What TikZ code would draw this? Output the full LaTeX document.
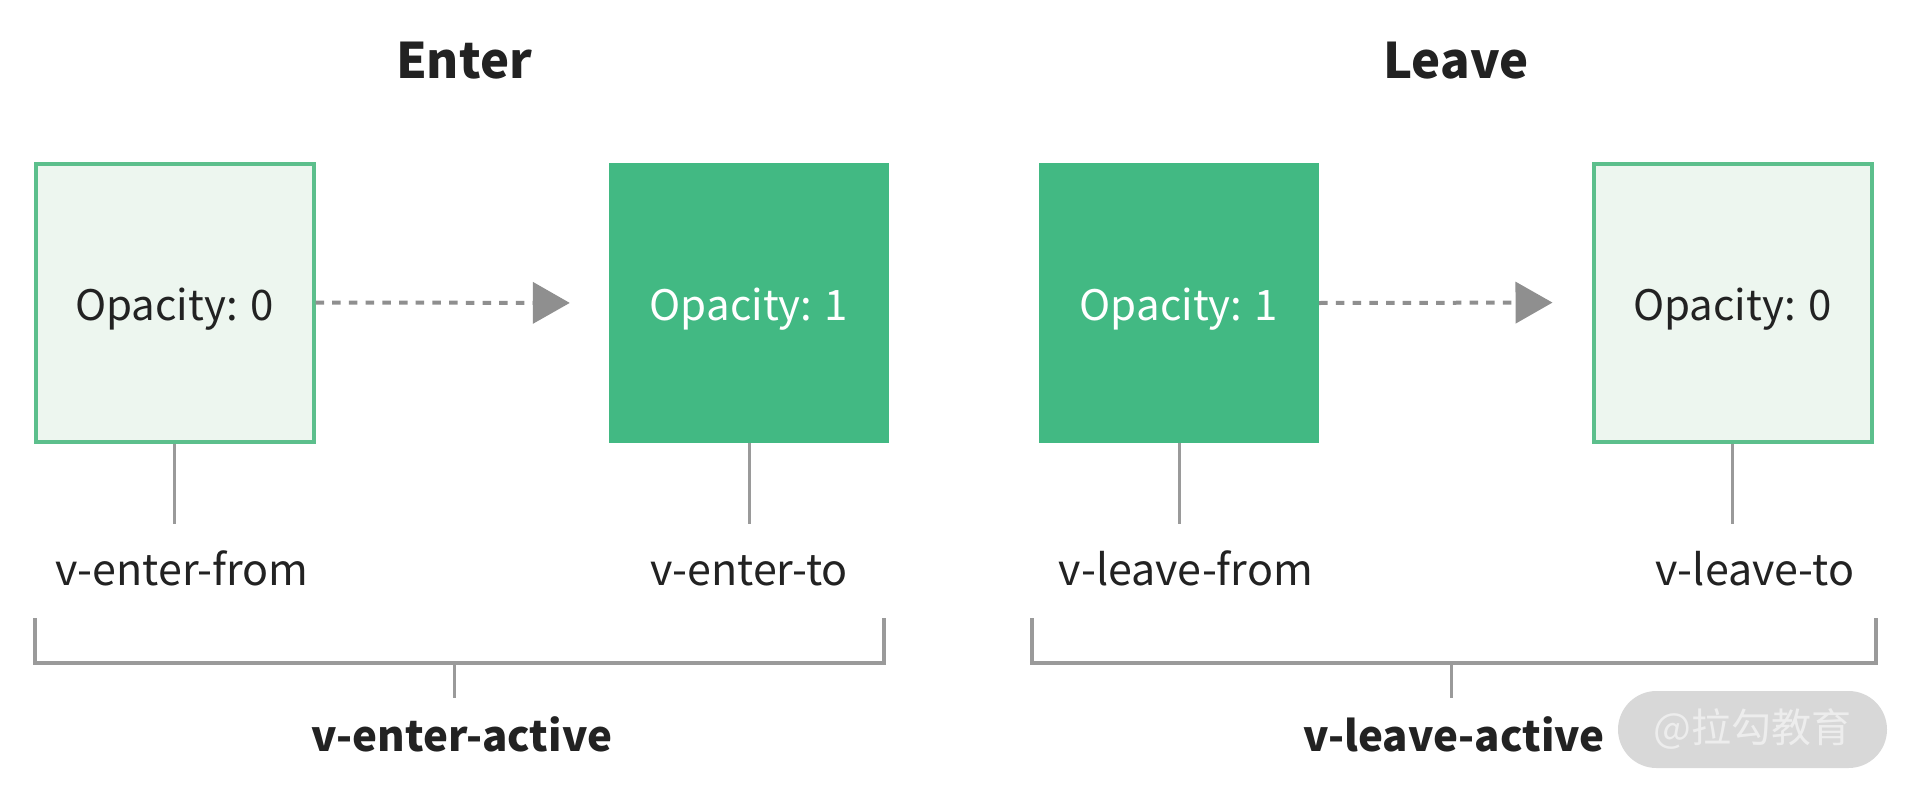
\documentclass[tikz,border=0pt]{standalone}
\usepackage{fontspec}
\setmainfont{Noto Sans CJK SC}
\usetikzlibrary{arrows.meta}
\definecolor{vgreen}{HTML}{42B983}
\definecolor{lightbox}{HTML}{EDF6EF}
\definecolor{boxline}{HTML}{5CBF8C}
\definecolor{lgrey}{HTML}{9A9A9A}
\definecolor{agrey}{HTML}{8F8F8F}
\definecolor{tdark}{HTML}{222222}
\definecolor{wmfill}{HTML}{D8D8D8}
\definecolor{wmtext}{HTML}{EDEDED}
\tikzset{
  lightsq/.style={draw=boxline, line width=4pt, fill=lightbox, minimum width=278pt, minimum height=278pt, inner sep=0pt, text=tdark, font=\fontsize{42}{50}\selectfont, text height=35pt, text depth=0pt},
  fullsq/.style={fill=vgreen, minimum width=280pt, minimum height=280pt, inner sep=0pt, text=white, font=\fontsize{42}{50}\selectfont, text height=35pt, text depth=0pt},
  flow/.style={agrey, line width=4pt, dash pattern=on 8.5pt off 8.2pt, -{Triangle[length=37pt, width=41pt]}, shorten >=39pt},
  tickline/.style={lgrey, line width=3pt},
  bracketline/.style={lgrey, line width=3.5pt},
  lbl/.style={anchor=base, inner sep=0pt, text=tdark, font=\fontsize{43}{50}\selectfont},
  boldlbl/.style={anchor=base, inner sep=0pt, text=tdark, font=\fontsize{42}{50}\selectfont\bfseries},
  title/.style={anchor=base, inner sep=0pt, text=tdark, font=\fontsize{49}{58}\selectfont\bfseries}
}
\begin{document}
\begin{tikzpicture}[x=1pt, y=-1pt]
\path[use as bounding box, fill=white] (0,0) rectangle (1912,792);
% titles
\node[title] (tenter) at (464,78) {Enter};
\node[title] (tleave) at (1456,78) {Leave};
% boxes
\node[lightsq] (b1) at (174.5,302.5) {Opacity: 0};
\node[fullsq] (b2) at (749,303) {Opacity: 1};
\node[fullsq] (b3) at (1179,303) {Opacity: 1};
\node[lightsq] (b4) at (1732.5,302.5) {Opacity: 0};
% arrows
\draw[flow] (b1.east) -- (b2.west);
\draw[flow] (b3.east) -- (b4.west);
% ticks and labels
\coordinate (t1) at (174.5,524);
\coordinate (t2) at (749,524);
\coordinate (t3) at (1179,524);
\coordinate (t4) at (1732.5,524);
\draw[tickline] (b1.south) -- (t1);
\draw[tickline] (b2.south) -- (t2);
\draw[tickline] (b3.south) -- (t3);
\draw[tickline] (b4.south) -- (t4);
\node[lbl] (l1) at (182,585) {v-enter-from};
\node[lbl] (l2) at (749,585) {v-enter-to};
\node[lbl] (l3) at (1186,585) {v-leave-from};
\node[lbl] (l4) at (1755,585) {v-leave-to};
% brackets
\coordinate (e1) at (35,618);
\coordinate (e2) at (884,618);
\coordinate (e3) at (1032,618);
\coordinate (e4) at (1876,618);
\draw[bracketline] (e1) |- (884,663) -- (e2);
\draw[bracketline] (e3) |- (1876,663) -- (e4);
\coordinate (m1) at (454,663);
\coordinate (m2) at (1451,663);
\coordinate (n1) at (454,698);
\coordinate (n2) at (1451,698);
\draw[tickline] (m1) -- (n1);
\draw[tickline] (m2) -- (n2);
\node[boldlbl] (a1) at (462,751) {v-enter-active};
\node[boldlbl] (a2) at (1454,751) {v-leave-active};
% watermark
\node[fill=wmfill, rounded corners=38.5pt, minimum width=269pt, minimum height=77pt, inner sep=0pt] (wm) at (1752.5,729.5) {};
\node[text=wmtext, font=\fontsize{40}{48}\selectfont, inner sep=0pt] (wmt) at (wm.center) {@拉勾教育};
\end{tikzpicture}
\end{document}
